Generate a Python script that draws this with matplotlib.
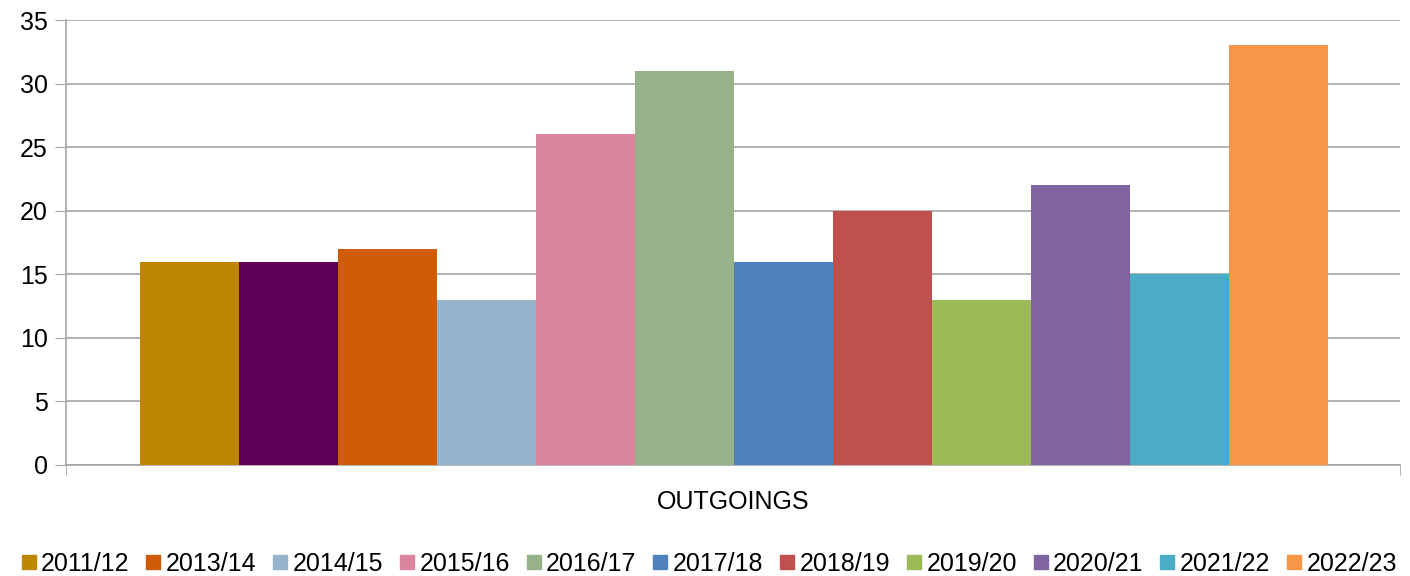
import matplotlib
matplotlib.use("Agg")
import matplotlib.pyplot as plt
from matplotlib.lines import Line2D
import numpy as np

plt.rcParams['font.family'] = ['Liberation Sans', 'DejaVu Sans']

category = "OUTGOINGS"
years = ["2011/12", "2012/13", "2013/14", "2014/15", "2015/16", "2016/17",
         "2017/18", "2018/19", "2019/20", "2020/21", "2021/22", "2022/23"]
values = [16, 16, 17, 13, 26, 31, 16, 20, 13, 22, 15, 33]
colors = ["#BD8600", "#5C0057", "#D15C08", "#97B4CD", "#DA859C", "#97B18A",
          "#4F81BD", "#C0504D", "#9BBB59", "#8064A2", "#4BACC6", "#F79646"]
# 2012/13 has no entry in the original legend
legend_years = [y for y in years if y != "2012/13"]

fig = plt.figure(figsize=(14.1, 5.76), dpi=100)
ax = fig.add_axes([66 / 1410, 1 - 465 / 576, 1334 / 1410, 445 / 576])

n = len(values)
w = 99 / 1334
x0 = -0.5 + 74 / 1334
for i, (v, c) in enumerate(zip(values, colors)):
    ax.bar(x0 + w * (i + 0.5), v, width=w, color=c, zorder=3)

ax.set_xlim(-0.5, 0.5)
ax.set_ylim(0, 35)
ax.set_yticks(range(0, 36, 5))
ax.yaxis.grid(True, color="#A6A6A6", linewidth=1.2, zorder=0)
for s in ["top", "right"]:
    ax.spines[s].set_visible(False)
ax.spines["left"].set_color("#A6A6A6")
ax.spines["bottom"].set_color("#A6A6A6")
ax.spines["left"].set_linewidth(1.2)
ax.spines["bottom"].set_linewidth(1.2)
ax.tick_params(axis="y", length=8, color="#A6A6A6", labelsize=18, pad=5)
ax.set_xticks([-0.5, 0.5], minor=True)
ax.tick_params(axis="x", which="minor", length=7, color="#A6A6A6")
ax.set_xticks([0])
ax.set_xticklabels([category])
ax.tick_params(axis="x", which="major", length=0, labelsize=18, pad=18)

handles = [Line2D([], [], marker="s", linestyle="none", markersize=10,
                  markerfacecolor=c, markeredgecolor=c)
           for y, c in zip(years, colors) if y != "2012/13"]
fig.legend(handles, legend_years, loc="center", bbox_to_anchor=(709 / 1410, 1 - 564 / 576),
           ncol=len(legend_years), frameon=False, fontsize=18,
           handlelength=0.6, handletextpad=0.2, columnspacing=0.65,
           borderpad=0, borderaxespad=0)

fig.savefig("out.png", dpi=100)
